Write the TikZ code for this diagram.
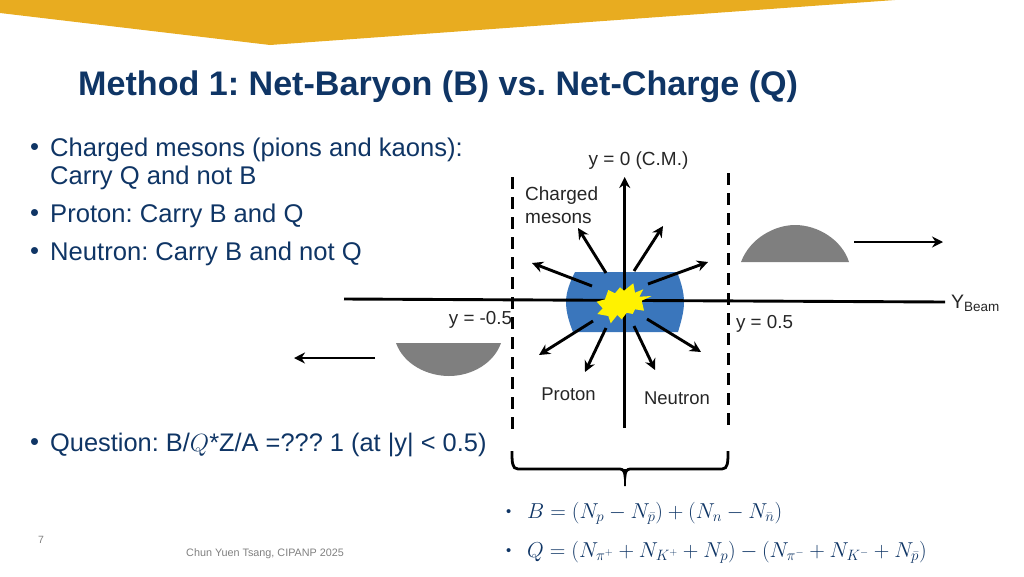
\documentclass[tikz,border=0pt]{standalone}
\usepackage{fontspec}
\setmainfont{Liberation Sans}
\usetikzlibrary{arrows.meta}
\definecolor{navy}{HTML}{0F3565}
\definecolor{gold}{HTML}{E8AC20}
\definecolor{bluefill}{HTML}{3A76BC}
\definecolor{greyfill}{HTML}{7F7F7F}
\definecolor{txtblack}{HTML}{262626}
\tikzset{
 body/.style={anchor=west,inner sep=0pt,text=navy,font=\fontsize{25.6}{30}\selectfont},
 lab/.style={inner sep=0pt,text=txtblack,font=\fontsize{19.5}{23}\selectfont},
 arr/.style={line width=2.9pt,-{Stealth[length=11pt,width=11pt]}},
 vline/.style={line width=3pt,black,dash pattern=on 12pt off 8pt},
 eq/.style={anchor=west,inner sep=0pt,text=navy,font=\fontsize{23}{27}\selectfont,scale=0.868}
}
\begin{document}
\frenchspacing
\begin{tikzpicture}[x=1pt,y=-1pt]
\useasboundingbox (0,0) rectangle (1024,576);
\fill[gold] (0,0) -- (0,13) -- (270,45) -- (895,0) -- cycle;
\node[anchor=west,inner sep=0pt,text=navy,font=\bfseries\fontsize{34.1}{40}\selectfont] (title) at (78,87) {Method 1: Net-Baryon (B) vs. Net-Charge (Q)};
\node[body] (d1) at (30,150) {•};
\node[body] (b1) at (50,150) {Charged mesons (pions and kaons):};
\node[body] (b1b) at (50,178) {Carry Q and not B};
\node[body] (d2) at (30,216) {•};
\node[body] (b2) at (50,216) {Proton: Carry B and Q};
\node[body] (d3) at (30,254) {•};
\node[body] (b3) at (50,254) {Neutron: Carry B and not Q};
\node[body] (d4) at (30,445) {•};
\node[body,font=\fontsize{25.4}{30}\selectfont] (b4) at (50,445) {Question: B/$Q$*Z/A =??? 1 (at |y| < 0.5)};
% blue fireball
\fill[bluefill] (575,272) -- (677,272) .. controls (681,282) and (684,292) .. (684,302) .. controls (684,312) and (681,322) .. (678,332) -- (573,332) .. controls (569,322) and (566,312) .. (566,302) .. controls (566,292) and (570,282) .. (575,272) -- cycle;
% dashed limits
\coordinate (dlt) at (512,177); \coordinate (dlb) at (512,431);
\coordinate (drt) at (728,173); \coordinate (drb) at (728,427);
\draw[vline] (dlt) -- (dlb);
\draw[vline] (drt) -- (drb);
% axes
\coordinate (ax1) at (344,299); \coordinate (ax2) at (945,302);
\coordinate (ay1) at (624.7,428); \coordinate (ay2) at (624.7,177);
\draw[line width=2.9pt] (ax1) -- (ax2);
\draw[line width=2.9pt,-{Stealth[length=11pt,width=11pt]}] (ay1) -- (ay2);
% star
\fill[yellow] (651.7,296) -- (641.7,300.7) -- (644,310.7) -- (635,309.3) -- (632.7,314) -- (626.7,312.7) -- (621.7,319.3) -- (617.3,315) -- (610.7,323.3) -- (608.3,316) -- (597.3,314) -- (602.7,308.3) -- (596.7,301.7) -- (605,299.3) -- (608.3,290) -- (615,293.3) -- (620,287.3) -- (624,290.7) -- (633.3,283.3) -- (635,292.7) -- (643.3,289.3) -- (639.3,296.7) -- cycle;
% particle arrows
\foreach \a/\b/\c/\d/\n in {606/273/578/228/a,592/286/532/263/b,634/271/663/226/c,648/284/708/262/d,593/321/539/355/e,606/328/585/372/f,634/326/655/370/g,647/319/701/352/h}{
 \coordinate (s\n) at (\a,\b); \coordinate (t\n) at (\c,\d);
 \draw[arr] (s\n) -- (t\n);
}
% grey lobes
\fill[greyfill] (741,262) .. controls (750,238) and (775,225) .. (795,225) .. controls (818,225) and (842,240) .. (849,262) -- cycle;
\fill[greyfill] (396,343) .. controls (404,365) and (428,376) .. (449,376) .. controls (472,376) and (494,363) .. (501,343) -- cycle;
\coordinate (ra1) at (854,242); \coordinate (ra2) at (943,242);
\coordinate (la1) at (375,358); \coordinate (la2) at (294,358);
\draw[arr] (ra1) -- (ra2);
\draw[arr] (la1) -- (la2);
% labels
\node[lab,font=\fontsize{19}{22}\selectfont] (y0) at (638.5,161) {y = 0 (C.M.)};
\node[lab,align=left,anchor=west,font=\fontsize{19}{23}\selectfont] (cm) at (525,205) {Charged\\mesons};
\node[lab,font=\fontsize{18.8}{22}\selectfont] (ym) at (480.5,320) {y = -0.5};
\node[lab,font=\fontsize{18.8}{22}\selectfont] (yp) at (764.5,324) {y = 0.5};
\node[lab,font=\fontsize{18.5}{22}\selectfont] (pr) at (568.5,394) {Proton};
\node[lab,font=\fontsize{18.5}{22}\selectfont] (ne) at (677,398) {Neutron};
\node[lab,anchor=base west] (yb) at (951,308) {Y\textsubscript{\fontsize{13.5}{16}\selectfont Beam}};
% brace
\draw[line width=2.8pt] (512,451) .. controls (512,462) and (512,469) .. (518,469) -- (620,469) .. controls (623,469) and (625,472) .. (625,476) .. controls (625,472) and (627,469) .. (630,469) -- (722,469) .. controls (728,469) and (728,462) .. (728,451);
\draw[line width=2.8pt] (625,469) -- (625,486);
% equations
\node[eq,font=\fontsize{17}{18}\selectfont] (d5) at (506,513) {•};
\node[eq] (e1) at (527,513) {$B=\Bigl(N_p-N_{\bar p}\Bigr)+\bigl(N_n-N_{\bar n}\bigr)$};
\node[eq,font=\fontsize{17}{18}\selectfont] (d6) at (506,552) {•};
\node[eq] (e2) at (527,552) {$Q=\Bigl(N_{\pi^+}+N_{K^+}+N_p\Bigr)-\Bigl(N_{\pi^-}+N_{K^-}+N_{\bar p}\Bigr)$};
% footer
\node[inner sep=0pt,text=gray,font=\fontsize{10.5}{12}\selectfont] (pg) at (41,540) {7};
\node[inner sep=0pt,text=gray,font=\fontsize{10.8}{13}\selectfont,anchor=west] (ft) at (186,554) {Chun Yuen Tsang, CIPANP 2025};
\end{tikzpicture}
\end{document}
